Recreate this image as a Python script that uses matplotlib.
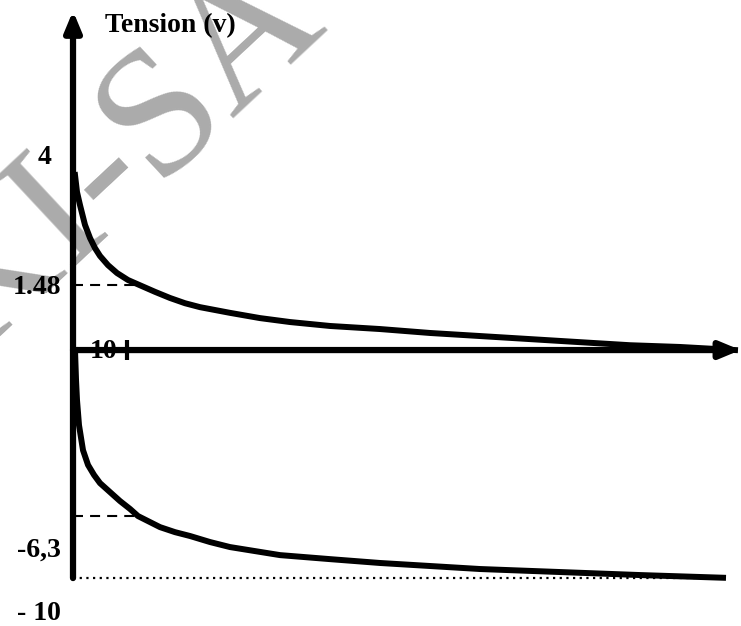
import matplotlib
matplotlib.use("Agg")
import matplotlib.pyplot as plt
import numpy as np

# time in ms, tension in volts
t_decharge = [0.37, 0.74, 1.30, 2.22, 3.15, 4.07, 5.00, 6.48, 8.15, 10.19, 12.41, 15.19, 17.96,
              20.74, 23.52, 29.07, 34.63, 40.19, 47.59, 56.85, 66.11, 75.37, 84.63, 93.89,
              103.15, 112.41, 122.59]
u_decharge = [4.00, 3.61, 3.31, 2.86, 2.56, 2.33, 2.15, 1.94, 1.76, 1.60, 1.48, 1.33, 1.19,
              1.07, 0.98, 0.85, 0.73, 0.64, 0.55, 0.48, 0.39, 0.32, 0.25, 0.18,
              0.11, 0.07, 0.00]

t_charge = [0.37, 0.56, 0.74, 1.11, 1.85, 2.78, 3.89, 5.00, 6.85, 8.70, 10.56, 12.04, 14.26,
            16.11, 18.89, 21.67, 25.37, 29.07, 33.70, 38.33, 47.59, 56.85, 66.11, 75.37,
            90.19, 105.0, 120.37]
u_charge = [0.00, -1.14, -1.90, -2.85, -3.80, -4.36, -4.74, -5.05, -5.39, -5.73, -6.03, -6.30, -6.66,
            -6.96, -7.26, -7.49, -7.85, -8.15, -8.39, -8.63, -8.87, -9.10, -9.28, -9.46,
            -9.64, -9.82, -9.98]

tau = 10
u_marks = [1.48, -6.3]
u_min = -10
y_labels = ["4", "1.48", "-6,3", "- 10"]
y_label_pos = [4.41, 1.44, -8.33, -12.09]


# the sketch is not drawn to scale: piecewise vertical scale
def fwd(v):
    v = np.asarray(v, dtype=float)
    return np.where(v >= 0, -(350 - 43.75 * v),
                    np.where(v >= -6.3, -(350 - v * 166 / 6.3),
                             -(516 + (-6.3 - v) * 62 / 3.7)))


def inv(t):
    y = -np.asarray(t, dtype=float)
    return np.where(y <= 350, (350 - y) / 43.75,
                    np.where(y <= 516, -(y - 350) * 6.3 / 166,
                             -6.3 - (y - 516) * 3.7 / 62))


fig = plt.figure(figsize=(7.41, 6.26), dpi=100)
ax = fig.add_axes([0, 0, 1, 1])
ax.set_yscale("function", functions=(fwd, inv))
ax.set_xlim(-13.52, 123.7)
ax.set_ylim(-12.86, 8.0)
ax.axis("off")

serif = ["Liberation Serif", "DejaVu Serif"]

# watermark
ax.text(120 / 741, 1 - 160 / 626, "KI-SA", transform=ax.transAxes, fontsize=132,
        family=serif, color="#ababab", rotation=43, rotation_mode="anchor",
        ha="center", va="center", zorder=0)

# axes with arrows
ax.annotate("", xy=(0, 7.75), xytext=(0, u_min),
            arrowprops=dict(arrowstyle="-|>,head_length=1.2,head_width=0.5",
                            lw=4.5, color="black", mutation_scale=10, shrinkA=0, shrinkB=0))
ax.annotate("", xy=(123.6, 0), xytext=(0, 0),
            arrowprops=dict(arrowstyle="-|>,head_length=1.2,head_width=0.5",
                            lw=4.5, color="black", mutation_scale=10, shrinkA=0, shrinkB=0))
ax.plot([tau, tau], [0.23, -0.38], color="black", lw=3, solid_capstyle="butt")

# curves
ax.plot(t_decharge, u_decharge, color="black", lw=4.3, solid_joinstyle="round", zorder=3)
ax.plot(t_charge, u_charge, color="black", lw=4.3, solid_joinstyle="round", zorder=3)

# guide lines
ax.plot([0, 12.4], [u_marks[0], u_marks[0]], color="black", lw=1.5, dashes=[4.8, 3.4])
ax.plot([0, 12.0], [u_marks[1], u_marks[1]], color="black", lw=1.5, dashes=[4.8, 3.4])
ax.plot([0, 115.6], [u_min, u_min], color="black", lw=1.6, dashes=[1, 2])

# labels
bold = dict(family=serif, fontweight="bold", fontsize=20, color="black")
ax.text(5.9, 7.41, "Tension (v)", ha="left", va="center", **bold)
ax.text(-5.2, y_label_pos[0], y_labels[0], ha="center", va="center", **bold)
for lab, pos in zip(y_labels[1:], y_label_pos[1:]):
    ax.text(-2.2, pos, lab, ha="right", va="center", **bold)
ax.text(5.6, -0.05, str(tau), ha="center", va="center", **bold)

fig.savefig("out.png", dpi=100)
